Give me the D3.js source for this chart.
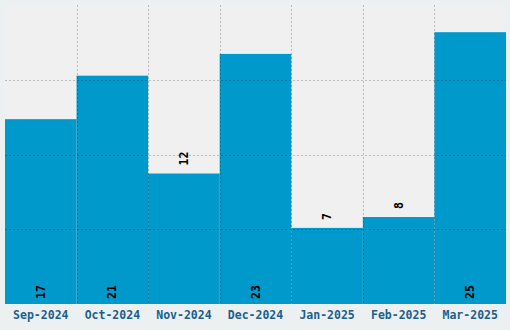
<!DOCTYPE html>
<meta charset="utf-8">
<style>
    body { margin: 0; background: #ecf0f1; }
    svg { display: block; }
    text { font-family: "DejaVu Sans Mono", monospace; font-weight: bold; font-size: 11.5px; }
    .grid line { stroke: #000; stroke-opacity: 0.22; stroke-width: 1px; stroke-dasharray: 2,2; }
</style>

<svg width="510" height="330"></svg>

<script src="https://cdn.jsdelivr.net/npm/d3@7"></script>
<script>
    var months = ["Sep-2024", "Oct-2024", "Nov-2024", "Dec-2024", "Jan-2025", "Feb-2025", "Mar-2025"];
    var counts = [17, 21, 12, 23, 7, 8, 25];

    (function () {
        var svg = d3.select("svg"),
            margin = {top: 5, right: 4, bottom: 26, left: 5},
            width = +svg.attr("width") - margin.left - margin.right,
            height = +svg.attr("height") - margin.top - margin.bottom,
            g = svg.append("g")
                .attr("transform", "translate(" + [margin.left, margin.top] + ")");

        var x = d3.scaleBand().domain(months).range([0, width]).padding(0),
            y = d3.scaleLinear().domain([0, d3.max(counts) * 1.1]).range([height, 0]);

        var data = months.map(function (m, i) { return {month: m, value: counts[i]}; });

        g.append("rect")
            .attr("width", width)
            .attr("height", height)
            .attr("fill", "#f0f0f0");

        g.selectAll(".bar")
            .data(data)
            .enter()
            .append("rect")
            .attr("class", "bar")
            .attr("x", function (d) { return x(d.month); })
            .attr("y", function (d) { return y(d.value); })
            .attr("width", x.bandwidth())
            .attr("height", function (d) { return height - y(d.value); })
            .attr("fill", "#0099cc");

        // grid on top of the bars: category borders + quarter lines
        var grid = g.append("g").attr("class", "grid");
        grid.selectAll(".v")
            .data(months.slice(1))
            .enter()
            .append("line")
            .attr("x1", function (d) { return Math.round(x(d)) + 0.5; })
            .attr("x2", function (d) { return Math.round(x(d)) + 0.5; })
            .attr("y1", 0)
            .attr("y2", height);
        grid.selectAll(".h")
            .data([0.25, 0.5, 0.75])
            .enter()
            .append("line")
            .attr("x1", 0)
            .attr("x2", width)
            .attr("y1", function (d) { return Math.round(height * d) + 0.5; })
            .attr("y2", function (d) { return Math.round(height * d) + 0.5; });

        // value labels: at the bottom when the bar is tall, above it otherwise
        g.selectAll(".label")
            .data(data)
            .enter()
            .append("text")
            .attr("class", "label")
            .attr("transform", function (d) {
                var cx = x(d.month) + x.bandwidth() / 2 + 4,
                    cy = d.value > 15 ? height - 5 : y(d.value) - 8;
                return "translate(" + [cx, cy] + ") rotate(-90)";
            })
            .attr("fill", "#000")
            .text(function (d) { return d.value; });

        var axis = g.append("g")
            .attr("transform", "translate(0," + height + ")")
            .call(d3.axisBottom(x).tickSize(0).tickPadding(7));
        axis.select(".domain").remove();
        axis.selectAll("text")
            .attr("fill", "#1b5f8f")
            .style("font-family", "DejaVu Sans Mono, monospace")
            .style("font-weight", "bold")
            .style("font-size", "11.5px");
    })();
</script>
